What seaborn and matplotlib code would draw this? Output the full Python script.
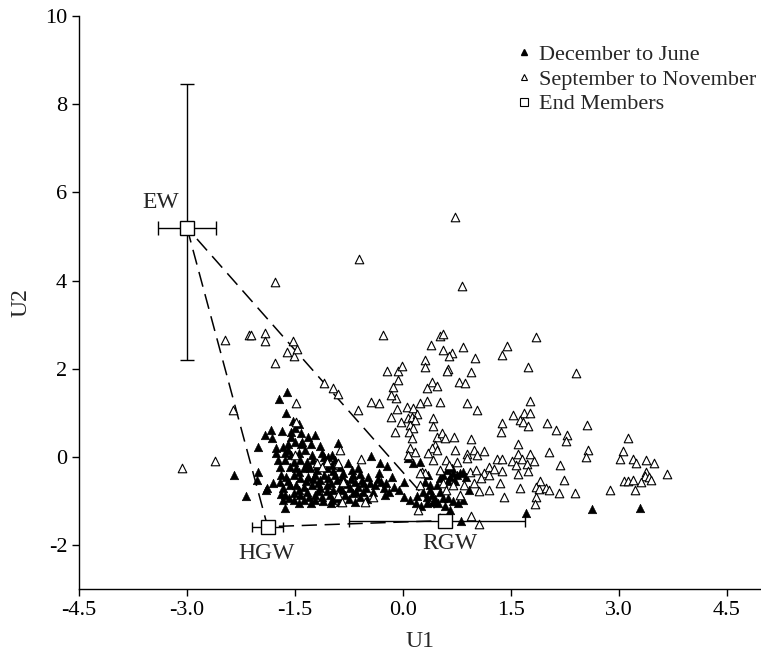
import matplotlib
matplotlib.use('Agg')
from matplotlib import pyplot as plt
from matplotlib.lines import Line2D
import numpy as np
import pandas as pd
import seaborn as sns

# December to June (filled triangles)
dj_u1 = [-1.61, -1.72, -1.63, -1.53, -1.84, -1.92, -1.82, -1.55, -1.50, -1.41,
         -1.32, -1.22, -1.41, -1.50, -1.55, -2.02, -1.76, -1.66, -1.76, -1.64,
         -1.55, -1.45, -1.36, -1.15, -0.90, -1.27, -1.13, -1.04, -0.94, -0.76,
         -1.73, -1.64, -1.52, -1.43, -1.34, -1.25, -1.08, -0.99, -0.88, -0.71,
         -0.62, -1.71, -1.57, -1.48, -1.38, -1.29, -1.20, -1.06, -0.97, -0.83,
         -0.69, -0.60, -2.01, -2.03, -1.80, -1.89, -1.71, -1.62, -1.52, -1.43,
         -1.32, -1.22, -1.15, -1.04, -0.92, -0.81, -0.67, -0.57, -1.66, -1.57,
         -1.48, -1.38, -1.27, -1.15, -1.06, -0.97, -0.88, -0.74, -0.62, -1.64,
         -1.52, -1.43, -1.34, -1.22, -1.13, -1.01, -0.92, -0.81, -0.69, -1.66,
         -1.52, -1.38, -1.22, -1.11, -0.99, -0.88, -0.67, -1.64, -2.18, -1.90,
         -2.35,
         -1.70, -1.60, -1.45, -1.35, -1.25, -1.18, -1.10, -1.00, -0.95, -0.85,
         -0.78, -0.72, -0.65, -0.60, -0.75, -0.85, -1.05, -1.18, -1.30, -1.45,
         -1.58, -1.70, -1.35, -1.20, -1.10, -0.98, -1.40, -1.28, -1.60, -1.60,
         -1.68, -1.45, -1.00, -1.28, -1.45, -0.55, -0.50,
         -0.44, -0.32, -0.22, -0.34, -0.48, -0.46, -0.39, -0.30, -0.23, -0.55,
         -0.51, -0.41, -0.27, -0.20, -0.25, -0.13, 0.01, 0.10, 0.07, 0.14,
         0.23, 0.31, 0.38, 0.28, 0.33, 0.40, 0.47, 0.51, 0.42, 0.56,
         0.49, 0.63, 0.33, 0.77, 0.84, 0.91, 0.56, 0.65, 0.70, 0.79,
         0.61, 0.68, 0.75, 0.51, 0.84, 0.35, 0.65, 0.80,
         0.45, 0.58, 0.70, 0.38, 0.62, 0.72, 0.88, -0.35, -0.15, -0.05,
         0.02, 0.20, 0.18, 0.25,
         1.71, 2.62, 3.29]
dj_u2 = [1.47, 1.32, 0.99, 0.82, 0.61, 0.50, 0.42, 0.57, 0.65, 0.54,
         0.46, 0.51, 0.29, 0.35, 0.46, 0.23, 0.21, 0.23, 0.08, 0.08,
         0.05, 0.08, 0.16, 0.26, 0.31, 0.05, 0.08, 0.01, -0.07, -0.14,
         -0.07, -0.07, -0.11, -0.07, -0.11, -0.07, -0.11, -0.18, -0.22, -0.30,
         -0.26, -0.22, -0.22, -0.24, -0.26, -0.24, -0.30, -0.26, -0.32, -0.37,
         -0.41, -0.39, -0.33, -0.52, -0.60, -0.71, -0.56, -0.45, -0.41, -0.48,
         -0.45, -0.41, -0.52, -0.47, -0.52, -0.56, -0.56, -0.52, -0.71, -0.64,
         -0.64, -0.67, -0.64, -0.71, -0.64, -0.75, -0.67, -0.71, -0.67, -0.86,
         -0.82, -0.86, -0.79, -0.86, -0.90, -0.86, -0.94, -0.86, -0.82, -0.98,
         -0.98, -0.98, -0.98, -1.00, -0.98, -1.01, -1.01, -1.15, -0.88, -0.75,
         -0.41,
         -0.40, -0.55, -0.35, -0.55, -0.50, -0.60, -0.40, -0.60, -0.40, -0.45,
         -0.62, -0.50, -0.80, -0.90, -0.95, -0.75, -0.78, -0.78, -0.90, -0.75,
         -0.92, -0.85, -0.20, -0.20, 0.00, 0.05, 0.35, 0.30, 0.30, 0.15,
         0.60, 0.75, -1.05, -1.05, -1.05, -0.80, -0.95,
         0.03, -0.14, -0.20, -0.37, -0.45, -0.60, -0.64, -0.56, -0.60, -0.60,
         -0.71, -0.79, -0.71, -0.79, -0.86, -0.67, -0.56, -0.98, -0.02, -0.14,
         -0.12, -0.56, -0.64, -0.79, -0.90, -0.86, -0.64, -0.79, -1.01, -0.94,
         -1.05, -0.94, -1.05, -1.05, -0.98, -0.75, -0.41, -0.45, -0.37, -0.37,
         -0.30, -0.26, -0.41, -0.48, -0.33, -0.41, -1.20, -1.44,
         -0.95, -1.10, -1.00, -0.75, -0.55, -0.55, -0.45, -0.50, -0.45, -0.75,
         -0.90, -0.88, -1.05, -1.12,
         -1.26, -1.19, -1.16]

# September to November (open triangles)
sn_u1 = [-3.07, -2.61, -2.47, -2.36, -2.14, -2.11, -1.92, -1.92, -1.78, -1.78,
         -1.61, -1.53, -1.51, -1.47, -1.10, -0.61, -0.97, -0.90, -1.48, -0.63,
         -1.49, -0.88, -0.59, -1.50, -1.20, -1.05, -0.90, -1.13, -0.83, -0.90,
         -0.85, 0.72, 0.82, 2.40,
         -0.28, 0.51, 0.55, 0.39, 0.56, 0.68, 0.64, 0.83, 1.00, 1.45,
         1.37, 1.85, 0.31, 0.31, -0.22, -0.07, -0.02, -0.07, -0.14, 0.63,
         0.61, 0.94, 1.74, 0.40, 0.78, 0.86, 0.33, 0.47,
         -0.10, -0.16, -0.44, -0.33, -0.08, 0.06, 0.14, 0.23, 0.33, 0.51,
         0.89, 1.03, -0.16, -0.03, 0.07, 0.12, 0.20, 0.17, 0.10, 0.14,
         0.41, 0.41, -0.11, 0.09, 0.13, 0.47, 0.54, 0.58, 0.71, 0.95,
         0.44, 0.40, 0.47, 0.10, 0.17, 0.07, 0.72, 0.89, 0.98, 1.03,
         0.35, 0.42, 0.60, 0.75, 0.89, 0.26, 0.31, 0.23, 0.64, 0.51,
         0.93, 1.02, 0.24, 0.56, 0.70, 0.85, 0.98, 1.06, 0.79, 0.60,
         -0.53, -0.41, 0.21, 0.95, 1.06,
         1.77, 1.53, 1.68, 1.76, 1.62, 1.66, 1.73, 1.37, 1.36, 2.00,
         2.13, 2.56, 2.28, 2.26, 1.60, 1.13, 2.03, 2.57, 2.54, 1.76,
         1.60, 1.30, 1.37, 1.51, 1.65, 1.57, 1.72, 1.82, 2.18, 1.20,
         1.26, 1.38, 1.74, 1.12, 1.19, 1.09, 1.60, 1.35, 2.24, 1.90,
         1.20, 1.63, 1.85, 1.89, 1.99, 2.03, 2.16, 2.39, 1.40, 1.85,
         1.83, 2.88,
         3.13, 3.05, 3.02, 3.20, 3.24, 3.38, 3.48, 3.38, 3.36, 3.42,
         3.44, 3.66, 3.07, 3.13, 3.20, 3.30, 3.22]
sn_u2 = [-0.25, -0.10, 2.65, 1.07, 2.77, 2.77, 2.81, 2.64, 3.96, 2.14,
         2.38, 2.62, 2.28, 2.45, 1.68, 4.50, 1.57, 1.42, 1.22, 1.07,
         0.79, 0.16, -0.05, 0.05, -0.14, -0.11, -0.14, -0.22, -0.56, -0.86,
         -1.03, 5.44, 3.88, 1.91,
         2.77, 2.74, 2.79, 2.54, 2.43, 2.35, 2.28, 2.49, 2.24, 2.52,
         2.31, 2.73, 2.20, 2.05, 1.95, 1.94, 2.06, 1.75, 1.59, 1.99,
         1.94, 1.92, 2.03, 1.69, 1.69, 1.67, 1.56, 1.61,
         1.33, 1.41, 1.24, 1.22, 1.09, 1.14, 1.12, 1.22, 1.27, 1.24,
         1.22, 1.07, 0.91, 0.80, 0.88, 0.91, 0.97, 0.84, 0.73, 0.65,
         0.88, 0.71, 0.57, 0.56, 0.42, 0.46, 0.54, 0.42, 0.46, 0.41,
         0.27, 0.20, 0.16, 0.21, 0.12, 0.05, 0.16, 0.06, 0.16, 0.05,
         0.08, -0.07, -0.07, -0.11, -0.02, -0.35, -0.37, -0.37, -0.18, -0.30,
         -0.35, -0.30, -0.64, -0.60, -0.64, -0.64, -0.60, -0.77, -0.86, -0.75,
         -1.01, -0.90, -1.20, -1.34, -1.52,
         1.28, 0.95, 0.99, 0.99, 0.85, 0.80, 0.70, 0.78, 0.57, 0.78,
         0.61, 0.73, 0.50, 0.37, 0.30, 0.14, 0.12, 0.17, -0.01, 0.07,
         0.07, -0.05, -0.05, -0.08, -0.05, -0.18, -0.16, -0.08, -0.18, -0.23,
         -0.28, -0.31, -0.31, -0.37, -0.41, -0.48, -0.39, -0.60, -0.51, -0.54,
         -0.75, -0.71, -0.67, -0.73, -0.71, -0.75, -0.81, -0.82, -0.91, -0.91,
         -1.07, -0.75,
         0.42, 0.14, -0.05, -0.05, -0.14, -0.07, -0.14, -0.33, -0.43, -0.46,
         -0.51, -0.39, -0.54, -0.54, -0.52, -0.56, -0.75]

# End members with error bars
em_names = ['EW', 'HGW', 'RGW']
em_u1 = [-3.00, -1.88, 0.59]
em_u2 = [5.20, -1.58, -1.44]
em_u1_err_lo = [0.40, 0.22, 1.34]
em_u1_err_hi = [0.40, 0.22, 1.11]
em_u2_err_lo = [3.00, 0.0, 0.0]
em_u2_err_hi = [3.25, 0.0, 0.0]
em_label_u1 = [-3.37, -1.89, 0.65]
em_label_u2 = [5.78, -2.18, -1.96]

xticks = [-4.5, -3.0, -1.5, 0.0, 1.5, 3.0, 4.5]
yticks = [-2, 0, 2, 4, 6, 8, 10]

sns.set_style('ticks')
plt.rcParams['font.family'] = ['Liberation Serif', 'DejaVu Serif']
plt.rcParams['axes.unicode_minus'] = False

dj = pd.DataFrame({'U1': dj_u1, 'U2': dj_u2})
sn = pd.DataFrame({'U1': sn_u1, 'U2': sn_u2})

fig = plt.figure(figsize=(7.61, 6.62), dpi=100)
ax = fig.add_axes([0.1038, 0.1098, 0.8962, 0.866])

# mixing lines between end members
tri = [0, 1, 2, 0]
ax.plot([em_u1[i] for i in tri], [em_u2[i] for i in tri], color='black',
        lw=1.1, dashes=(10, 5), zorder=2)

sns.scatterplot(data=dj, x='U1', y='U2', marker='^', s=38, color='black',
                edgecolor='black', linewidth=0.4, ax=ax, zorder=3, legend=False)
sns.scatterplot(data=sn, x='U1', y='U2', marker='^', s=38, color='white',
                edgecolor='black', linewidth=0.8, ax=ax, zorder=4, legend=False)

caps = [5.2, 3.6, 4.3]
for i in range(3):
    ax.errorbar(em_u1[i], em_u2[i],
                xerr=[[em_u1_err_lo[i]], [em_u1_err_hi[i]]],
                yerr=[[em_u2_err_lo[i]], [em_u2_err_hi[i]]] if em_u2_err_hi[i] > 0 else None,
                fmt='s', ms=9.5, mfc='white', mec='black', mew=1.0,
                ecolor='black', elinewidth=1.0, capsize=caps[i], capthick=1.0, zorder=5)
    ax.text(em_label_u1[i], em_label_u2[i], em_names[i], fontsize=17,
            ha='center', va='center')

handles = [Line2D([], [], marker='^', ls='none', color='black', ms=5),
           Line2D([], [], marker='^', ls='none', mfc='white', mec='black', mew=0.8, ms=5),
           Line2D([], [], marker='s', ls='none', mfc='white', mec='black', mew=0.8, ms=6)]
ax.legend(handles, ['December to June', 'September to November', 'End Members'],
          loc='upper left', bbox_to_anchor=(0.639, 0.950), frameon=False,
          fontsize=16, borderpad=0, borderaxespad=0, handlelength=0.8,
          handletextpad=0.3, labelspacing=0.18)

ax.set_xlim(-4.5, 4.972)
ax.set_ylim(-3, 10)
ax.set_xticks(xticks)
ax.set_xticklabels(['%.1f' % v for v in xticks])
ax.set_yticks(yticks)
ax.set_yticklabels([str(v) for v in yticks])
ax.tick_params(direction='out', length=5, width=1, labelsize=16, colors='black')
ax.set_xlabel('U1', fontsize=17, labelpad=8)
ax.set_ylabel('U2', fontsize=17, labelpad=10)
sns.despine(ax=ax)
for s in ['left', 'bottom']:
    ax.spines[s].set_linewidth(1.0)
    ax.spines[s].set_color('black')

fig.savefig('out.png', dpi=100)
